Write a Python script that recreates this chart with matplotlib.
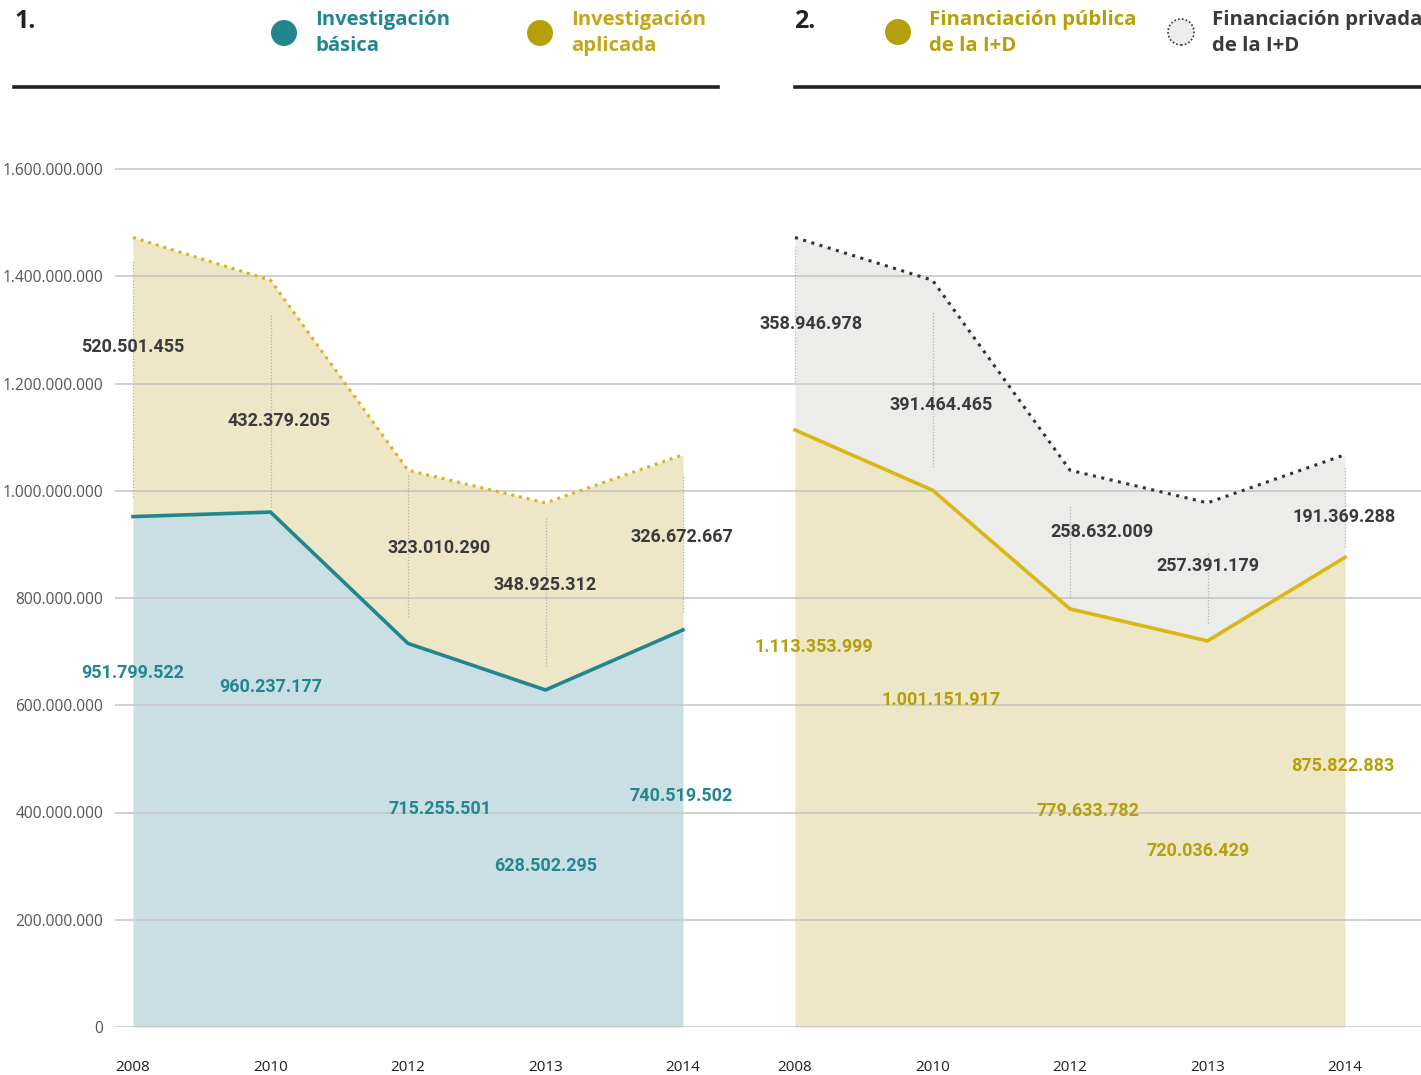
import matplotlib
matplotlib.use("Agg")
import matplotlib.pyplot as plt
from matplotlib.patches import Ellipse
from matplotlib.lines import Line2D

# ---------------- data ----------------
years = ["2008", "2010", "2012", "2013", "2014"]
basica = [951799522, 960237177, 715255501, 628502295, 740519502]
aplicada = [520501455, 432379205, 323010290, 348925312, 326672667]
publica = [1113353999, 1001151917, 779633782, 720036429, 875822883]
privada = [358946978, 391464465, 258632009, 257391179, 191369288]
yticks = [0, 200e6, 400e6, 600e6, 800e6, 1000e6, 1200e6, 1400e6, 1600e6]

def fmt(v):
    return f"{int(v):,}".replace(",", ".")

# ---------------- layout ----------------
W, H = 1421, 1075
fig = plt.figure(figsize=(W / 100, H / 100), dpi=100)
ax = fig.add_axes([115 / W, 1 - 1027 / H, (1421 - 115) / W, (1027 - 100) / H])
step = 137.5
ax.set_xlim((115 - 133) / step, (1421 - 133) / step)
ax.set_ylim(0, (1027 - 100) / 536.25 * 1e9)
for s in ax.spines.values():
    s.set_visible(False)

off2 = (795 - 133) / step
x1 = list(range(len(years)))
x2 = [i + off2 for i in x1]

NUMFONT = ["Roboto", "DejaVu Sans"]
TICKFONT = ["Open Sans", "DejaVu Sans"]
CONDFONT = ["Open Sans", "DejaVu Sans"]

# colours
TEAL = "#23868f"
TEAL_FILL = "#c9dfe3"
BEIGE_FILL = "#ede6c7"
GOLD_DOT = "#d9b51c"
GOLD_LINE = "#d8b716"
GOLD_TEXT = "#b59f0a"
GREY_FILL = "#ececea"
DARK = "#3a3a3a"

tot1 = [b + a for b, a in zip(basica, aplicada)]
tot2 = [p + q for p, q in zip(publica, privada)]

# fills
ax.fill_between(x1, 0, basica, color=TEAL_FILL, lw=0, zorder=1)
ax.fill_between(x1, basica, tot1, color=BEIGE_FILL, lw=0, zorder=1)
ax.fill_between(x2, 0, publica, color=BEIGE_FILL, lw=0, zorder=1)
ax.fill_between(x2, publica, tot2, color=GREY_FILL, lw=0, zorder=1)

# grid
for t in yticks:
    ax.axhline(t, color="#c4c4c4", lw=1.1, zorder=2)

# lines
ax.plot(x1, basica, color=TEAL, lw=2.6, zorder=4, solid_joinstyle="miter")
ax.plot(x1, tot1, color=GOLD_DOT, lw=2.2, ls=(0, (1, 1.6)), zorder=4)
ax.plot(x2, publica, color=GOLD_LINE, lw=2.6, zorder=4, solid_joinstyle="miter")
ax.plot(x2, tot2, color="#333333", lw=2.2, ls=(0, (1, 1.8)), zorder=4)

# thin dotted leader lines (fractions of the upper band)
lead1 = [(0.07, 0.92), (0.02, 0.85), (0.15, 0.97), (0.13, 0.93), (0.10, 0.89)]
lead2 = [(0.25, 0.95), (0.11, 0.85), (0.08, 0.74), (0.13, 0.65), (0.10, 0.89)]
for xs, lo_s, hi_s, leads in ((x1, basica, tot1, lead1), (x2, publica, tot2, lead2)):
    for x, lo, hi, (a, b) in zip(xs, lo_s, hi_s, leads):
        ax.plot([x, x], [lo + (hi - lo) * a, lo + (hi - lo) * b],
                color="#b0b0b0", lw=0.9, ls=(0, (1, 1.5)), zorder=3)

# value labels: (dx in steps, y in data) layout positions
pos_ap = [(0.0, 1.268e9), (0.065, 1.130e9), (0.23, 0.893e9), (0.0, 0.824e9), (-0.01, 0.914e9)]
pos_ba = [(0.0, 0.660e9), (0.0, 0.634e9), (0.23, 0.4065e9), (0.0, 0.300e9), (-0.01, 0.431e9)]
pos_pr = [(0.12, 1.311e9), (0.06, 1.160e9), (0.23, 0.923e9), (0.0, 0.860e9), (-0.01, 0.951e9)]
pos_pu = [(0.14, 0.709e9), (0.06, 0.610e9), (0.13, 0.403e9), (-0.07, 0.328e9), (-0.02, 0.487e9)]

def labels(xs, vals, poss, color):
    for x, v, (dx, y) in zip(xs, vals, poss):
        ax.text(x + dx, y, fmt(v), ha="center", va="center", color=color,
                fontsize=13, fontweight="bold", family=NUMFONT, zorder=6)

labels(x1, aplicada, pos_ap, DARK)
labels(x1, basica, pos_ba, TEAL)
labels(x2, privada, pos_pr, DARK)
labels(x2, publica, pos_pu, GOLD_TEXT)

# ticks
ax.set_yticks(yticks)
ax.set_yticklabels([fmt(t) for t in yticks], family=TICKFONT, fontsize=11.2, color="#555555")
ax.set_xticks(x1 + x2)
ax.set_xticklabels(years + years, family=TICKFONT, fontsize=11, color="#1e1e1e")
ax.tick_params(axis="y", length=0, pad=8.6)
ax.tick_params(axis="x", length=0, pad=24)

# ---------------- header ----------------
def fx(px):
    return px / W

def fy(py):
    return 1 - py / H

fig.add_artist(Line2D([fx(14), fx(718)], [fy(87), fy(87)], color="#222222", lw=2.6))
fig.add_artist(Line2D([fx(795), fx(1421)], [fy(87), fy(87)], color="#222222", lw=2.6))

fig.text(fx(14), fy(22), "1.", fontsize=18, fontweight="bold", color="#222222",
         va="center", ha="left", family=CONDFONT, fontstretch="condensed")
fig.text(fx(794), fy(22), "2.", fontsize=18, fontweight="bold", color="#222222",
         va="center", ha="left", family=CONDFONT, fontstretch="condensed")

def legend_item(cx, cy, face, text, tcolor, edge=None):
    r = 13
    e = Ellipse((fx(cx), fy(cy)), 2 * r / W, 2 * r / H, transform=fig.transFigure,
                facecolor=face, edgecolor=edge if edge else "none",
                lw=1.2 if edge else 0, ls=(0, (1, 1.3)) if edge else "-")
    fig.add_artist(e)
    fig.text(fx(cx + 31), fy(33), text, color=tcolor, fontsize=14.6, fontweight="bold",
             fontstretch="condensed", family=CONDFONT, va="center", ha="left",
             linespacing=1.35)

legend_item(284, 33, TEAL, "Investigación\nbásica", TEAL)
legend_item(540, 33, GOLD_TEXT, "Investigación\naplicada", "#c4a61c")
legend_item(898, 32, GOLD_TEXT, "Financiación pública\nde la I+D", GOLD_TEXT)
legend_item(1181, 32, GREY_FILL, "Financiación privada\nde la I+D", DARK, edge="#333333")

fig.savefig("out.png", dpi=100)
